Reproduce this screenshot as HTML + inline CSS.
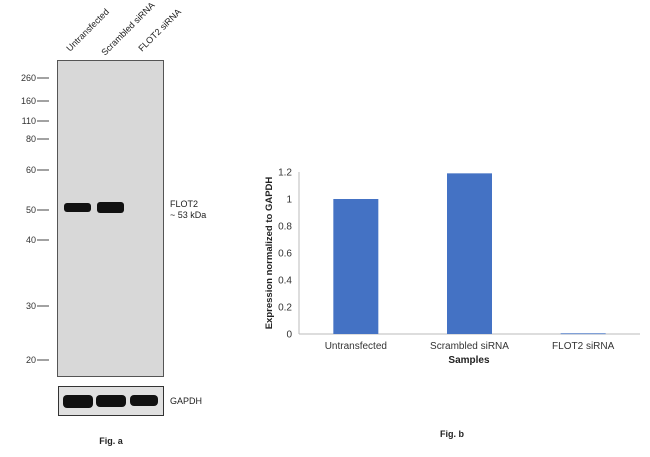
<!DOCTYPE html>
<html><head><meta charset="utf-8"><style>
body{margin:0;background:#fff;width:650px;height:452px;overflow:hidden;font-family:"Liberation Sans",sans-serif}
</style></head><body>
<svg width="650" height="452" xmlns="http://www.w3.org/2000/svg" font-family="Liberation Sans, sans-serif">
<g>
  <g font-size="9" fill="#222">
    <text transform="translate(70,52) rotate(-45)">Untransfected</text>
    <text transform="translate(105,56) rotate(-45)">Scrambled siRNA</text>
    <text transform="translate(142,52) rotate(-45)">FLOT2 siRNA</text>
  </g>
  <rect x="57.5" y="60.5" width="106" height="316" fill="#d8d8d8" stroke="#555"/>
  <g id="markers" font-size="9" fill="#333" text-anchor="end"></g>
  <rect x="64" y="203" width="27" height="9" rx="3" fill="#111"/>
  <rect x="97" y="202" width="27" height="11" rx="3" fill="#111"/>
  <text x="170" y="207" font-size="9" fill="#222">FLOT2</text>
  <text x="170" y="218" font-size="9" fill="#222">~ 53 kDa</text>
  <rect x="58.5" y="386.5" width="105" height="29" fill="#e0e0e0" stroke="#333"/>
  <rect x="63" y="395" width="30" height="13" rx="4" fill="#111"/>
  <rect x="96" y="395" width="30" height="12" rx="4" fill="#111"/>
  <rect x="130" y="395" width="28" height="11" rx="4" fill="#111"/>
  <text x="170" y="404" font-size="9" fill="#222">GAPDH</text>
  <text x="111" y="444" font-size="9" font-weight="bold" text-anchor="middle" fill="#222">Fig. a</text>
</g>
<g id="chart">
  <line x1="299" y1="172" x2="299" y2="334" stroke="#bbb"/>
  <line x1="299" y1="334" x2="640" y2="334" stroke="#bbb"/>
  <g id="yticks" font-size="10" fill="#333" text-anchor="end"></g>
  <g id="bars"></g>
  <g id="xlabels" font-size="10" fill="#333" text-anchor="middle"></g>
  <text x="469" y="363" font-size="10" font-weight="bold" text-anchor="middle" fill="#222">Samples</text>
  <text transform="translate(272,253) rotate(-90)" font-size="9.5" font-weight="bold" text-anchor="middle" fill="#222">Expression normalized to GAPDH</text>
  <text x="452" y="437" font-size="9" font-weight="bold" text-anchor="middle" fill="#222">Fig. b</text>
</g>
</svg>
<script>
const markerLabels=["260","160","110","80","60","50","40","30","20"];
const markerY=[78,101,121,139,170,210,240,306,360];
const categories=["Untransfected","Scrambled siRNA","FLOT2 siRNA"];
const values=[1.0,1.19,0.005];
const yTicks=[0,0.2,0.4,0.6,0.8,1,1.2];
const NS="http://www.w3.org/2000/svg";
function mk(t,a,p){const e=document.createElementNS(NS,t);for(const k in a)e.setAttribute(k,a[k]);p.appendChild(e);return e;}
const mg=document.getElementById('markers');
markerLabels.forEach((l,i)=>{
  const t=mk('text',{x:36,y:markerY[i]+3},mg);t.textContent=l;
  
  
  const ln=mk('line',{x1:37,x2:49,y1:markerY[i],y2:markerY[i],stroke:'#444'},mg);
  
  
});
const y0=334,yTop=172,yMax=1.2,x0=299,x1=640;
const ys=v=>y0-(v/yMax)*(y0-yTop);
const bw=(x1-x0)/categories.length;
const xc=i=>x0+bw*(i+0.5);
const yt=document.getElementById('yticks');
yTicks.forEach(v=>{
  const t=mk('text',{x:292,y:ys(v)+3.5},yt);t.textContent=String(v);
  
  
});
const bg=document.getElementById('bars'),xl=document.getElementById('xlabels');
values.forEach((v,i)=>{
  const r=mk('rect',{x:xc(i)-22.5,y:ys(v),width:45,height:Math.max(y0-ys(v),0.8),fill:'#4472c4'},bg);
  
  
  const t=mk('text',{x:xc(i),y:349},xl);t.textContent=categories[i];
  
  
});
</script>
</body></html>
